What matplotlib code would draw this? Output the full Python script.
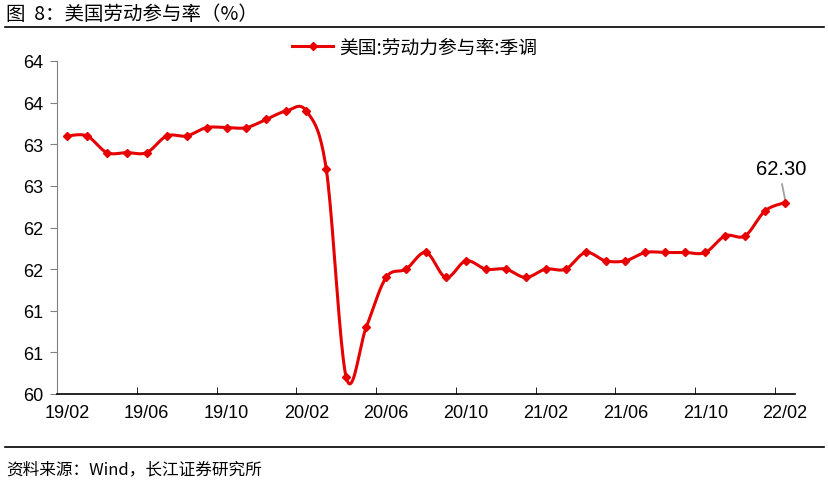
import numpy as np
import matplotlib
matplotlib.use("Agg")
import matplotlib.pyplot as plt
from matplotlib.lines import Line2D

months = ["19/02","19/03","19/04","19/05","19/06","19/07","19/08","19/09","19/10","19/11","19/12",
          "20/01","20/02","20/03","20/04","20/05","20/06","20/07","20/08","20/09","20/10","20/11","20/12",
          "21/01","21/02","21/03","21/04","21/05","21/06","21/07","21/08","21/09","21/10","21/11","21/12",
          "22/01","22/02"]
lfpr = [63.1,63.1,62.9,62.9,62.9,63.1,63.1,63.2,63.2,63.2,63.3,
        63.4,63.4,62.7,60.2,60.8,61.4,61.5,61.7,61.4,61.6,61.5,61.5,
        61.4,61.5,61.5,61.7,61.6,61.6,61.7,61.7,61.7,61.7,61.9,61.9,
        62.2,62.3]
ytick_vals = [60,60.5,61,61.5,62,62.5,63,63.5,64]
ytick_labels = ["60","61","61","62","62","63","63","64","64"]
series_name = "美国:劳动力参与率:季调"
title = "图  8：美国劳动参与率（%）"
source = "资料来源：Wind，长江证券研究所"

CJK = ["Noto Sans CJK SC", "DejaVu Sans"]
NUM = ["Liberation Sans", "DejaVu Sans"]
RED = "#E60000"

def smooth(x, y, n=20):
    # Excel-like smoothed line (Catmull-Rom / cardinal bezier)
    x = np.asarray(x, float); y = np.asarray(y, float)
    px = np.concatenate([[x[0]], x, [x[-1]]])
    py = np.concatenate([[y[0]], y, [y[-1]]])
    xs, ys = [], []
    for i in range(1, len(px) - 2):
        p0 = np.array([px[i-1], py[i-1]]); p1 = np.array([px[i], py[i]])
        p2 = np.array([px[i+1], py[i+1]]); p3 = np.array([px[i+2], py[i+2]])
        c1 = p1 + (p2 - p0) / 6.0
        c2 = p2 - (p3 - p1) / 6.0
        t = np.linspace(0, 1, n, endpoint=(i == len(px) - 3))[:, None]
        b = (1-t)**3*p1 + 3*(1-t)**2*t*c1 + 3*(1-t)*t**2*c2 + t**3*p2
        xs.append(b[:, 0]); ys.append(b[:, 1])
    return np.concatenate(xs), np.concatenate(ys)

fig = plt.figure(figsize=(8.29, 4.85), dpi=100)
W, H = 829, 485
ax = fig.add_axes([57/W, 1-395/H, (795-57)/W, (395-62)/H])

x = np.arange(len(months))
sx, sy = smooth(x, lfpr)
ax.plot(sx, sy, color=RED, lw=2.2, solid_capstyle="round", zorder=3)
ax.plot(x, lfpr, ls="none", marker="D", ms=4, color=RED, zorder=4)

ax.set_xlim(-0.5, len(months) - 0.5)
ax.set_ylim(60, 64)
ax.set_yticks(ytick_vals)
ax.set_yticklabels(ytick_labels, fontfamily=NUM, fontsize=13)
ax.set_xticks(x[::4])
ax.set_xticklabels(months[::4], fontfamily=NUM, fontsize=13)
ax.set_xticks(np.arange(-0.5, len(months), 4), minor=True)
ax.tick_params(axis="x", which="major", length=0, pad=7)
ax.tick_params(axis="x", which="minor", length=5, direction="in", color="black")
ax.tick_params(axis="y", length=5, direction="out", color="#808080", pad=5)

for s in ["top", "right"]:
    ax.spines[s].set_visible(False)
ax.spines["left"].set_color("#808080")
ax.spines["bottom"].set_color("black")
ax.spines["bottom"].set_linewidth(1.2)

# annotation of last value
ax.text(x[-1] - 0.2, lfpr[-1] + 0.29, f"{lfpr[-1]:.2f}", ha="center", va="bottom",
        fontfamily=NUM, fontsize=14.5)
ax.plot([x[-1] - 0.15, x[-1]], [lfpr[-1] + 0.22, lfpr[-1] + 0.04], color="#A0A0A0", lw=1.3, zorder=2)

# legend
handle = Line2D([0], [0], color=RED, lw=2.2, marker="D", ms=4)
leg = fig.legend([handle], [series_name], loc="center", bbox_to_anchor=(0.5, 1-48/H),
                 frameon=False, prop={"family": CJK, "size": 13.5}, handlelength=2.2,
                 handletextpad=0.3)

# title and separator lines
fig.text(6/W, 1-15/H, title, fontfamily=CJK, fontsize=14, va="center", ha="left")
fig.add_artist(Line2D([5/W, 824/W], [1-28/H, 1-28/H], color="black", lw=1.2))
fig.add_artist(Line2D([5/W, 824/W], [1-448/H, 1-448/H], color="black", lw=1.2))
fig.text(6/W, 1-470/H, source, fontfamily=CJK, fontsize=12, va="center", ha="left")

fig.savefig("out.png", dpi=100)
